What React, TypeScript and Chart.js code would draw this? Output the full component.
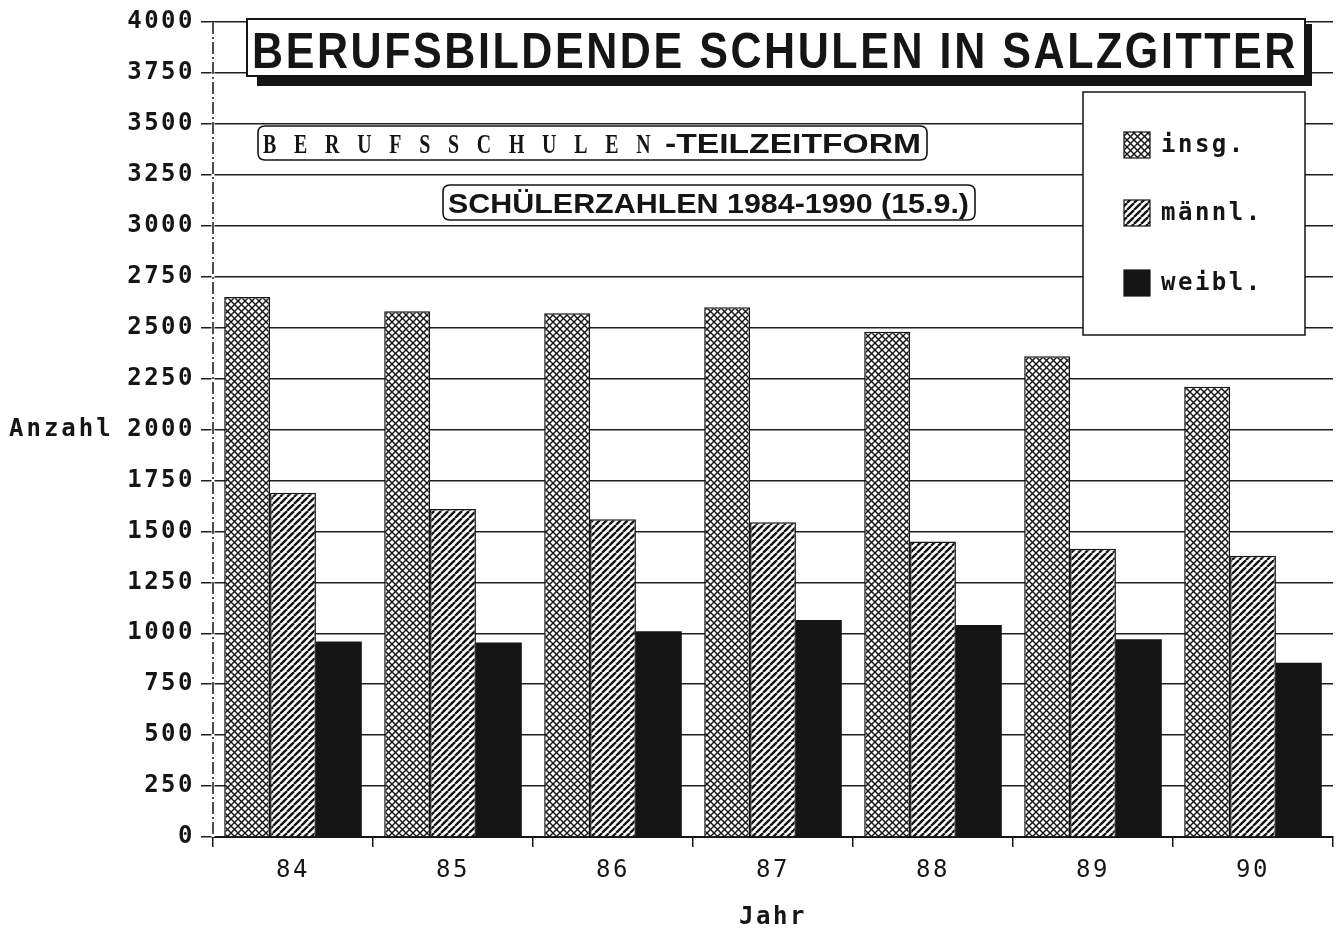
import React, { useEffect, useRef } from 'react';
import { Chart, registerables } from 'chart.js';

Chart.register(...registerables);

// ---- data ----
const categories = ['84', '85', '86', '87', '88', '89', '90'];
const seriesLabels = ['insg.', 'männl.', 'weibl.'];
const insgValues = [2650, 2580, 2570, 2600, 2480, 2360, 2210];
const maennlValues = [1690, 1610, 1560, 1545, 1450, 1415, 1380];
const weiblValues = [960, 955, 1010, 1065, 1040, 970, 855];
const yMin = 0;
const yMax = 4000;
const yStep = 250;
const titleText = 'BERUFSBILDENDE SCHULEN IN SALZGITTER';
const subtitleSpaced = 'B E R U F S S C H U L E N';
const subtitleSuffix = '-TEILZEITFORM';
const subtitle2Text = 'SCHÜLERZAHLEN 1984-1990 (15.9.)';
const yAxisTitle = 'Anzahl';
const xAxisTitle = 'Jahr';

const INK = '#151515';
const MONO = '"DejaVu Sans Mono", "Liberation Mono", monospace';

function makeCrossPattern(): CanvasPattern | string {
  const s = 7;
  const c = document.createElement('canvas');
  c.width = s;
  c.height = s;
  const g = c.getContext('2d');
  if (!g) return INK;
  g.fillStyle = '#ffffff';
  g.fillRect(0, 0, s, s);
  g.strokeStyle = INK;
  g.lineWidth = 1.4;
  for (const k of [-s, 0, s]) {
    g.beginPath();
    g.moveTo(k, 0);
    g.lineTo(k + s, s);
    g.stroke();
    g.beginPath();
    g.moveTo(k, s);
    g.lineTo(k + s, 0);
    g.stroke();
  }
  return g.createPattern(c, 'repeat') || INK;
}

function makeDiagPattern(): CanvasPattern | string {
  const s = 7;
  const c = document.createElement('canvas');
  c.width = s;
  c.height = s;
  const g = c.getContext('2d');
  if (!g) return INK;
  g.fillStyle = '#ffffff';
  g.fillRect(0, 0, s, s);
  g.strokeStyle = INK;
  g.lineWidth = 2.4;
  for (const k of [-s, 0, s]) {
    g.beginPath();
    g.moveTo(k, s);
    g.lineTo(k + s, 0);
    g.stroke();
  }
  return g.createPattern(c, 'repeat') || INK;
}

function fitText(ctx: CanvasRenderingContext2D, text: string, x: number, baseline: number, width: number, font: string, spacing = '0px') {
  ctx.save();
  ctx.font = font;
  (ctx as any).letterSpacing = spacing;
  ctx.textAlign = 'left';
  ctx.textBaseline = 'alphabetic';
  const w = ctx.measureText(text).width;
  ctx.translate(x, baseline);
  ctx.scale(width / w, 1);
  ctx.fillStyle = INK;
  ctx.fillText(text, 0, 0);
  ctx.restore();
}

function roundBox(ctx: CanvasRenderingContext2D, x: number, y: number, w: number, h: number, r: number) {
  ctx.beginPath();
  ctx.moveTo(x + r, y);
  ctx.lineTo(x + w - r, y);
  ctx.quadraticCurveTo(x + w, y, x + w, y + r);
  ctx.lineTo(x + w, y + h - r);
  ctx.quadraticCurveTo(x + w, y + h, x + w - r, y + h);
  ctx.lineTo(x + r, y + h);
  ctx.quadraticCurveTo(x, y + h, x, y + h - r);
  ctx.lineTo(x, y + r);
  ctx.quadraticCurveTo(x, y, x + r, y);
  ctx.closePath();
}

const decorPlugin = {
  id: 'decor',
  beforeDraw(chart: any) {
    (chart.ctx as any).letterSpacing = '2.5px';
  },
  beforeDatasetsDraw(chart: any) {
    // dash-dot left axis line
    const ctx: CanvasRenderingContext2D = chart.ctx;
    const a = chart.chartArea;
    ctx.save();
    ctx.strokeStyle = '#ffffff';
    ctx.lineWidth = 3;
    ctx.beginPath();
    ctx.moveTo(a.left, a.top);
    ctx.lineTo(a.left, a.bottom);
    ctx.stroke();
    ctx.strokeStyle = INK;
    ctx.lineWidth = 1.5;
    ctx.setLineDash([12, 3, 2, 3]);
    ctx.beginPath();
    ctx.moveTo(a.left, a.top);
    ctx.lineTo(a.left, a.bottom);
    ctx.stroke();
    ctx.restore();
  },
  afterDraw(chart: any) {
    const ctx: CanvasRenderingContext2D = chart.ctx;
    ctx.save();
    (ctx as any).letterSpacing = '0px';

    // main title box with shadow
    ctx.fillStyle = INK;
    ctx.fillRect(257, 77, 1055, 9);
    ctx.fillRect(1304, 24, 8, 62);
    ctx.fillStyle = '#ffffff';
    ctx.fillRect(247, 19, 1058, 57);
    ctx.strokeStyle = INK;
    ctx.lineWidth = 2;
    ctx.strokeRect(247, 19, 1058, 57);
    fitText(ctx, titleText, 252, 68, 1046, 'bold 50px "Liberation Sans", Arial, sans-serif', '3px');

    // subtitle 1
    roundBox(ctx, 258, 126, 669, 34, 7);
    ctx.fillStyle = '#ffffff';
    ctx.fill();
    ctx.lineWidth = 1.6;
    ctx.strokeStyle = INK;
    ctx.stroke();
    fitText(ctx, subtitleSpaced, 263, 153, 394, 'bold 28px "Liberation Serif", "DejaVu Serif", serif', '9px');
    fitText(ctx, subtitleSuffix, 665, 153, 256, 'bold 28px "Liberation Sans", Arial, sans-serif');

    // subtitle 2
    roundBox(ctx, 443, 185, 532, 35, 7);
    ctx.fillStyle = '#ffffff';
    ctx.fill();
    ctx.lineWidth = 1.6;
    ctx.strokeStyle = INK;
    ctx.stroke();
    fitText(ctx, subtitle2Text, 448, 213, 521, 'bold 28px "Liberation Sans", Arial, sans-serif');

    // legend
    ctx.fillStyle = '#ffffff';
    ctx.fillRect(1083, 92, 222, 243);
    ctx.lineWidth = 1.5;
    ctx.strokeStyle = INK;
    ctx.strokeRect(1083, 92, 222, 243);
    const rowY = [145, 213, 283];
    chart.data.datasets.forEach((ds: any, i: number) => {
      const cy = rowY[i];
      ctx.fillStyle = ds.backgroundColor;
      ctx.fillRect(1124, cy - 13, 26, 26);
      ctx.lineWidth = 1.2;
      ctx.strokeStyle = INK;
      ctx.strokeRect(1124, cy - 13, 26, 26);
      ctx.fillStyle = INK;
      (ctx as any).letterSpacing = '2.5px';
      ctx.font = 'bold 24px ' + MONO;
      ctx.textAlign = 'left';
      ctx.textBaseline = 'middle';
      ctx.fillText(ds.label, 1161, cy + 1);
      (ctx as any).letterSpacing = '0px';
    });

    // y axis title
    const yScale = chart.scales.y;
    (ctx as any).letterSpacing = '3px';
    ctx.fillStyle = INK;
    ctx.font = 'bold 24px ' + MONO;
    ctx.textAlign = 'left';
    ctx.textBaseline = 'middle';
    ctx.fillText(yAxisTitle, 9, yScale.getPixelForValue(2000));
    ctx.restore();
  },
};

export default function App() {
  const ref = useRef<HTMLCanvasElement | null>(null);

  useEffect(() => {
    const canvas = ref.current;
    if (!canvas) return;
    const crossPat = makeCrossPattern();
    const diagPat = makeDiagPattern();
    const chart = new Chart(canvas, {
      type: 'bar',
      data: {
        labels: categories,
        datasets: [
          {
            label: seriesLabels[0],
            data: insgValues,
            backgroundColor: crossPat as any,
            borderColor: INK,
            borderWidth: 1.5,
            barPercentage: 1.0,
            categoryPercentage: 0.86,
          },
          {
            label: seriesLabels[1],
            data: maennlValues,
            backgroundColor: diagPat as any,
            borderColor: INK,
            borderWidth: 1.5,
            barPercentage: 1.0,
            categoryPercentage: 0.86,
          },
          {
            label: seriesLabels[2],
            data: weiblValues,
            backgroundColor: INK,
            borderWidth: 0,
            barPercentage: 1.0,
            categoryPercentage: 0.86,
          },
        ],
      },
      options: {
        responsive: false,
        animation: false,
        layout: { padding: { top: 22, right: 4, left: 0, bottom: 0 } },
        plugins: {
          legend: { display: false },
          tooltip: { enabled: false },
          title: { display: false },
        },
        scales: {
          x: {
            grid: {
              drawOnChartArea: false,
              drawTicks: true,
              tickLength: 10,
              color: INK,
              lineWidth: 1.5,
              offset: true,
            },
            border: { display: true, color: INK, width: 2 },
            ticks: {
              color: INK,
              padding: 9,
              font: { family: MONO, size: 24, weight: 'normal' },
            },
            title: {
              display: true,
              text: xAxisTitle,
              color: INK,
              font: { family: MONO, size: 24, weight: 'bold' },
              padding: { top: 2, bottom: 1 },
            },
            afterFit: (s: any) => {
              s.height = 96;
            },
          },
          y: {
            min: yMin,
            max: yMax,
            ticks: {
              stepSize: yStep,
              color: INK,
              padding: 6,
              font: { family: MONO, size: 24, weight: 'bold' },
              callback: (v: any) => String(v),
            },
            grid: {
              color: '#1e1e1e',
              lineWidth: 1.5,
              drawTicks: true,
              tickLength: 12,
            },
            border: { display: false },
            afterFit: (s: any) => {
              s.width = 213;
            },
          },
        },
      } as any,
      plugins: [decorPlugin],
    });
    return () => chart.destroy();
  }, []);

  return (
    <div style={{ position: 'fixed', left: 0, top: 0, width: 1337, height: 933, background: '#ffffff' }}>
      <canvas ref={ref} width={1337} height={933} style={{ display: 'block' }} />
    </div>
  );
}
